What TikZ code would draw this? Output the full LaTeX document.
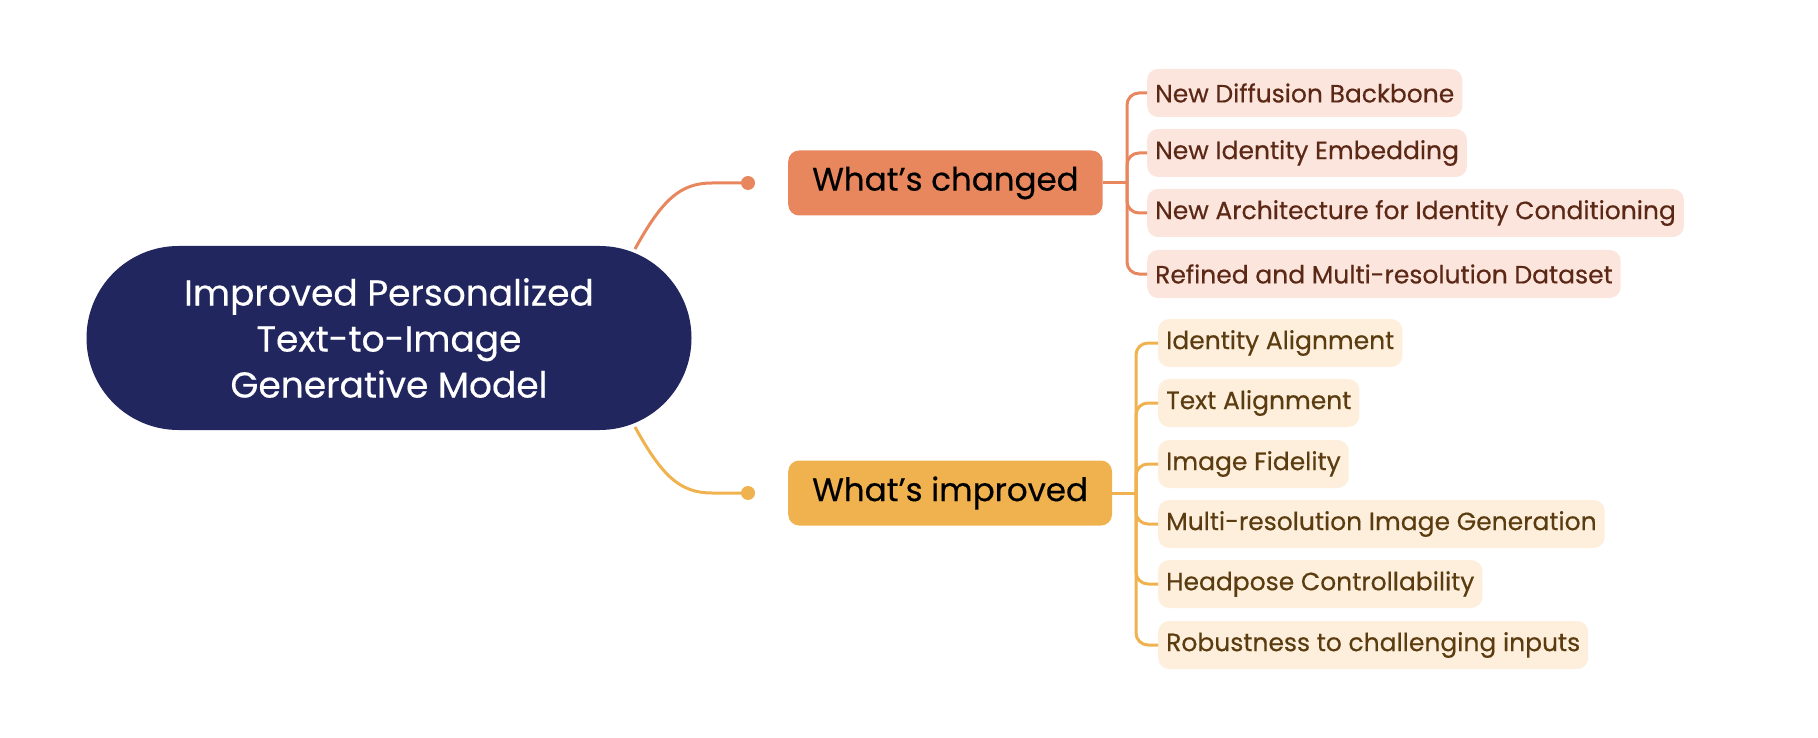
\documentclass[tikz,border=0pt]{standalone}
\usepackage{fontspec}
\setmainfont{Poppins}[FakeBold=0.4]
\definecolor{navy}{HTML}{21265F}
\definecolor{chg}{HTML}{E8875E}
\definecolor{chglight}{HTML}{FCE5DD}
\definecolor{chgtext}{HTML}{5B2816}
\definecolor{imp}{HTML}{F0B24E}
\definecolor{implight}{HTML}{FDEFDC}
\definecolor{imptext}{HTML}{5B3C10}
\begin{document}
\begin{tikzpicture}[x=1pt,y=-1pt,
  rootbox/.style={fill=navy, text=white, rounded corners=92pt, minimum width=605pt, minimum height=184pt, align=center, inner sep=0pt, font=\fontsize{36}{46}\selectfont},
  mainbox/.style={rounded corners=11pt, minimum height=65pt, inner xsep=24pt, anchor=west, text=black, font=\fontsize{32.5}{36}\selectfont},
  chgbox/.style={mainbox, fill=chg},
  impbox/.style={mainbox, fill=imp},
  leaf/.style={rounded corners=11pt, minimum height=48pt, inner xsep=8pt, inner ysep=0pt, anchor=west, font=\fontsize{25}{28}\selectfont},
  chgleaf/.style={leaf, fill=chglight, text=chgtext},
  impleaf/.style={leaf, fill=implight, text=imptext},
  chgline/.style={draw=chg, line width=3pt},
  impline/.style={draw=imp, line width=3pt},
]
\useasboundingbox (0,0) rectangle (1818,738);

\node[rootbox] (root) at (389,338) {Improved Personalized\\Text-to-Image\\Generative Model};

\node[chgbox] (chg) at (788,183) {What’s changed};
\node[impbox] (imp) at (788,493) {What’s improved};

\coordinate (dc) at (748,183);
\coordinate (di) at (748,493);
\coordinate (rc) at (635,249);
\coordinate (ri) at (635,427);

\draw[chgline] (rc) .. controls (662,200) and (680,183) .. (712,183) -- (dc);
\fill[chg] (dc) circle (7pt);
\draw[impline] (ri) .. controls (662,476) and (680,493) .. (712,493) -- (di);
\fill[imp] (di) circle (7pt);

\node[chgleaf] (c1) at (1147,93) {New Diffusion Backbone};
\node[chgleaf] (c2) at (1147,153) {New Identity Embedding};
\node[chgleaf] (c3) at (1147,213) {New Architecture for Identity Conditioning};
\node[chgleaf] (c4) at (1147,274) {Refined and Multi-resolution Dataset};

\node[impleaf] (i1) at (1158,343) {Identity Alignment};
\node[impleaf] (i2) at (1158,403) {Text Alignment};
\node[impleaf] (i3) at (1158,464) {Image Fidelity};
\node[impleaf] (i4) at (1158,524) {Multi-resolution Image Generation};
\node[impleaf] (i5) at (1158,584) {Headpose Controllability};
\node[impleaf] (i6) at (1158,645) {Robustness to challenging inputs};

\coordinate (jc) at (1127,183);
\coordinate (ji) at (1136,493);
\draw[chgline] (chg.east) -- (jc);
\foreach \c in {c1,c2,c3,c4} \draw[chgline, rounded corners=12pt] (jc) |- (\c.west);
\draw[impline] (imp.east) -- (ji);
\foreach \c in {i1,i2,i3,i4,i5,i6} \draw[impline, rounded corners=12pt] (ji) |- (\c.west);
\end{tikzpicture}
\end{document}
